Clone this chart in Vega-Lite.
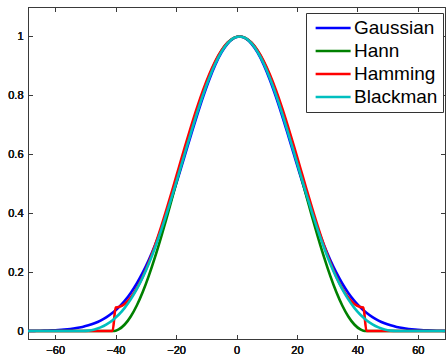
{
"$schema": "https://vega.github.io/schema/vega-lite/v6.json",
"width": 417, "height": 332,
"autosize": {"type": "none"},
"padding": {"left": 28, "top": 7, "right": 1, "bottom": 17},
"background": "white",
"config": {
  "view": {"stroke": "#3a3a3a", "strokeWidth": 1},
  "axis": {"grid": false, "domainColor": "#3a3a3a", "tickColor": "#3a3a3a", "labelColor": "#1a1a1a", "labelFont": "Liberation Sans", "labelFontSize": 11, "tickSize": -4.5, "tickWidth": 1, "domainWidth": 1, "title": null}
},
"data": {"values": [
{"x":-69,"Gaussian":0.00044,"Hann":0,"Hamming":0,"Blackman":0},
{"x":-67,"Gaussian":0.00068,"Hann":0,"Hamming":0,"Blackman":0},
{"x":-65,"Gaussian":0.00104,"Hann":0,"Hamming":0,"Blackman":0},
{"x":-63,"Gaussian":0.00156,"Hann":0,"Hamming":0,"Blackman":0},
{"x":-61,"Gaussian":0.00233,"Hann":0,"Hamming":0,"Blackman":0},
{"x":-59,"Gaussian":0.00342,"Hann":0,"Hamming":0,"Blackman":0},
{"x":-57,"Gaussian":0.00496,"Hann":0,"Hamming":0,"Blackman":0},
{"x":-55,"Gaussian":0.00711,"Hann":0,"Hamming":0,"Blackman":0},
{"x":-53,"Gaussian":0.01006,"Hann":0,"Hamming":0,"Blackman":0},
{"x":-51,"Gaussian":0.01405,"Hann":0,"Hamming":0,"Blackman":0},
{"x":-49,"Gaussian":0.01938,"Hann":0,"Hamming":0,"Blackman":0.00132},
{"x":-47,"Gaussian":0.02640,"Hann":0,"Hamming":0,"Blackman":0.00537},
{"x":-45,"Gaussian":0.03552,"Hann":0,"Hamming":0,"Blackman":0.01237},
{"x":-43,"Gaussian":0.04719,"Hann":0,"Hamming":0,"Blackman":0.02272},
{"x":-41,"Gaussian":0.06188,"Hann":0,"Hamming":0,"Blackman":0.03688},
{"x":-40,"Gaussian":0.07053,"Hann":0.00140,"Hamming":0.08,"Blackman":0.04568},
{"x":-39,"Gaussian":0.08014,"Hann":0.00558,"Hamming":0.08135,"Blackman":0.05539},
{"x":-37,"Gaussian":0.10251,"Hann":0.02221,"Hamming":0.09210,"Blackman":0.07880},
{"x":-35,"Gaussian":0.12951,"Hann":0.04952,"Hamming":0.11334,"Blackman":0.10760},
{"x":-33,"Gaussian":0.16148,"Hann":0.08688,"Hamming":0.14459,"Blackman":0.14220},
{"x":-31,"Gaussian":0.19886,"Hann":0.13347,"Hamming":0.18511,"Blackman":0.18282},
{"x":-29,"Gaussian":0.24182,"Hann":0.18826,"Hamming":0.23399,"Blackman":0.22950},
{"x":-27,"Gaussian":0.29038,"Hann":0.25,"Hamming":0.28996,"Blackman":0.28206},
{"x":-25,"Gaussian":0.34430,"Hann":0.31733,"Hamming":0.35184,"Blackman":0.34},
{"x":-23,"Gaussian":0.40312,"Hann":0.38874,"Hamming":0.41810,"Blackman":0.40260},
{"x":-21,"Gaussian":0.46608,"Hann":0.46263,"Hamming":0.48725,"Blackman":0.46882},
{"x":-19,"Gaussian":0.53212,"Hann":0.53737,"Hamming":0.55762,"Blackman":0.53742},
{"x":-17,"Gaussian":0.59987,"Hann":0.61126,"Hamming":0.62758,"Blackman":0.60692},
{"x":-15,"Gaussian":0.66778,"Hann":0.68267,"Hamming":0.69551,"Blackman":0.67566},
{"x":-13,"Gaussian":0.73408,"Hann":0.75,"Hamming":0.75976,"Blackman":0.74192},
{"x":-11,"Gaussian":0.79680,"Hann":0.81174,"Hamming":0.81887,"Blackman":0.80390},
{"x":-9,"Gaussian":0.85408,"Hann":0.86653,"Hamming":0.87144,"Blackman":0.85986},
{"x":-7,"Gaussian":0.90398,"Hann":0.91312,"Hamming":0.91624,"Blackman":0.90818},
{"x":-5,"Gaussian":0.94480,"Hann":0.95048,"Hamming":0.95224,"Blackman":0.94739},
{"x":-3,"Gaussian":0.97508,"Hann":0.97779,"Hamming":0.97856,"Blackman":0.97631},
{"x":-1,"Gaussian":0.99371,"Hann":0.99442,"Hamming":0.99461,"Blackman":0.99403},
{"x":1,"Gaussian":1,"Hann":1,"Hamming":1,"Blackman":1},
{"x":3,"Gaussian":0.99371,"Hann":0.99442,"Hamming":0.99461,"Blackman":0.99403},
{"x":5,"Gaussian":0.97508,"Hann":0.97779,"Hamming":0.97856,"Blackman":0.97631},
{"x":7,"Gaussian":0.94480,"Hann":0.95048,"Hamming":0.95224,"Blackman":0.94739},
{"x":9,"Gaussian":0.90398,"Hann":0.91312,"Hamming":0.91624,"Blackman":0.90818},
{"x":11,"Gaussian":0.85408,"Hann":0.86653,"Hamming":0.87144,"Blackman":0.85986},
{"x":13,"Gaussian":0.79680,"Hann":0.81174,"Hamming":0.81887,"Blackman":0.80390},
{"x":15,"Gaussian":0.73408,"Hann":0.75,"Hamming":0.75976,"Blackman":0.74192},
{"x":17,"Gaussian":0.66778,"Hann":0.68267,"Hamming":0.69551,"Blackman":0.67566},
{"x":19,"Gaussian":0.59987,"Hann":0.61126,"Hamming":0.62758,"Blackman":0.60692},
{"x":21,"Gaussian":0.53212,"Hann":0.53737,"Hamming":0.55762,"Blackman":0.53742},
{"x":23,"Gaussian":0.46608,"Hann":0.46263,"Hamming":0.48725,"Blackman":0.46882},
{"x":25,"Gaussian":0.40312,"Hann":0.38874,"Hamming":0.41810,"Blackman":0.40260},
{"x":27,"Gaussian":0.34430,"Hann":0.31733,"Hamming":0.35184,"Blackman":0.34},
{"x":29,"Gaussian":0.29038,"Hann":0.25,"Hamming":0.28996,"Blackman":0.28206},
{"x":31,"Gaussian":0.24182,"Hann":0.18826,"Hamming":0.23399,"Blackman":0.22950},
{"x":33,"Gaussian":0.19886,"Hann":0.13347,"Hamming":0.18511,"Blackman":0.18282},
{"x":35,"Gaussian":0.16148,"Hann":0.08688,"Hamming":0.14459,"Blackman":0.14220},
{"x":37,"Gaussian":0.12951,"Hann":0.04952,"Hamming":0.11334,"Blackman":0.10760},
{"x":39,"Gaussian":0.10251,"Hann":0.02221,"Hamming":0.09210,"Blackman":0.07880},
{"x":41,"Gaussian":0.08014,"Hann":0.00558,"Hamming":0.08135,"Blackman":0.05539},
{"x":42,"Gaussian":0.07053,"Hann":0.00140,"Hamming":0.08,"Blackman":0.04568},
{"x":43,"Gaussian":0.06188,"Hann":0,"Hamming":0,"Blackman":0.03688},
{"x":45,"Gaussian":0.04719,"Hann":0,"Hamming":0,"Blackman":0.02272},
{"x":47,"Gaussian":0.03552,"Hann":0,"Hamming":0,"Blackman":0.01237},
{"x":49,"Gaussian":0.02640,"Hann":0,"Hamming":0,"Blackman":0.00537},
{"x":51,"Gaussian":0.01938,"Hann":0,"Hamming":0,"Blackman":0.00132},
{"x":53,"Gaussian":0.01405,"Hann":0,"Hamming":0,"Blackman":0},
{"x":55,"Gaussian":0.01006,"Hann":0,"Hamming":0,"Blackman":0},
{"x":57,"Gaussian":0.00711,"Hann":0,"Hamming":0,"Blackman":0},
{"x":59,"Gaussian":0.00496,"Hann":0,"Hamming":0,"Blackman":0},
{"x":61,"Gaussian":0.00342,"Hann":0,"Hamming":0,"Blackman":0},
{"x":63,"Gaussian":0.00233,"Hann":0,"Hamming":0,"Blackman":0},
{"x":65,"Gaussian":0.00156,"Hann":0,"Hamming":0,"Blackman":0},
{"x":67,"Gaussian":0.00104,"Hann":0,"Hamming":0,"Blackman":0},
{"x":69,"Gaussian":0.00068,"Hann":0,"Hamming":0,"Blackman":0}
]},
"transform": [{"fold": ["Gaussian", "Hann", "Hamming", "Blackman"], "as": ["window", "value"]}],
"encoding": {
  "x": {"field": "x", "type": "quantitative",
        "scale": {"domain": [-69, 69], "nice": false, "zero": false},
        "axis": {"orient": "bottom", "values": [-60, -40, -20, 0, 20, 40, 60], "labelPadding": 9.5}},
  "y": {"field": "value", "type": "quantitative",
        "scale": {"domain": [-0.027, 1.1], "nice": false, "zero": false},
        "axis": {"orient": "left", "values": [0, 0.2, 0.4, 0.6, 0.8, 1], "format": ".1~f", "labelPadding": 9.5}},
  "color": {"field": "window", "type": "nominal",
            "scale": {"domain": ["Gaussian", "Hann", "Hamming", "Blackman"], "range": ["#0000ff", "#008000", "#ff0000", "#00bfbf"]},
            "legend": {"title": null, "orient": "none", "legendX": 278, "legendY": 6, "padding": 5,
                       "strokeColor": "#333333", "fillColor": "white", "cornerRadius": 0,
                       "labelFont": "Liberation Sans", "labelFontSize": 19, "labelColor": "black", "labelLimit": 300,
                       "symbolType": "M-0.62,0H3.42", "symbolSize": 300, "symbolStrokeWidth": 2.5,
                       "labelOffset": 23, "rowPadding": 3}}
},
"layer": [
  {"transform": [{"filter": "datum.window === 'Gaussian'"}],
   "mark": {"type": "line", "strokeWidth": 2.6, "interpolate": "monotone", "clip": true}},
  {"transform": [{"filter": "datum.window === 'Hann'"}],
   "mark": {"type": "line", "strokeWidth": 2.6, "interpolate": "monotone", "clip": true}},
  {"transform": [{"filter": "datum.window === 'Hamming'"}],
   "mark": {"type": "line", "strokeWidth": 2.6, "interpolate": "monotone", "clip": true}},
  {"transform": [{"filter": "datum.window === 'Blackman'"}],
   "mark": {"type": "line", "strokeWidth": 2.6, "interpolate": "monotone", "clip": true}},
  {
    "mark": {"type": "line", "strokeOpacity": 0, "clip": true},
    "encoding": {
      "x": {"field": "x", "type": "quantitative",
            "axis": {"orient": "top", "values": [-60, -40, -20, 0, 20, 40, 60], "labels": false}},
      "y": {"field": "value", "type": "quantitative",
            "axis": {"orient": "right", "values": [0, 0.2, 0.4, 0.6, 0.8, 1], "labels": false}}
    }
  }
]
}
